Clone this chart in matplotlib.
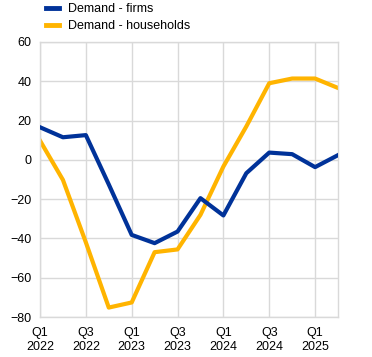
import matplotlib
matplotlib.use("Agg")
import matplotlib.pyplot as plt

plt.rcParams["font.family"] = ["Liberation Sans", "DejaVu Sans"]

quarters = ["Q1\n2022", "Q2\n2022", "Q3\n2022", "Q4\n2022",
            "Q1\n2023", "Q2\n2023", "Q3\n2023", "Q4\n2023",
            "Q1\n2024", "Q2\n2024", "Q3\n2024", "Q4\n2024",
            "Q1\n2025", "Q2\n2025"]
firms = [16.6, 11.5, 12.6, -12.5, -38.2, -42.4, -36.5, -19.5,
         -28.3, -6.8, 3.7, 2.9, -3.7, 2.4]
households = [9.8, -10.2, -42.0, -75.2, -72.6, -47.0, -45.6, -28.0,
              -3.4, 17.0, 39.0, 41.4, 41.4, 36.6]

BLUE = "#003299"
YELLOW = "#FFB400"
GRID = "#d9d9d9"

fig = plt.figure(figsize=(3.72, 3.57), dpi=100)
ax = fig.add_axes([40 / 372, 1 - 317 / 357, 298 / 372, 275 / 357])

x = list(range(len(quarters)))
ax.plot(x, firms, color=BLUE, lw=3, label="Demand - firms", zorder=3)
ax.plot(x, households, color=YELLOW, lw=3, label="Demand - households", zorder=2)

ax.set_xlim(0, len(quarters) - 1)
ax.set_ylim(-80, 60)
ax.set_yticks(range(-80, 61, 20))
ax.set_xticks(x[::2])
ax.set_xticklabels(quarters[::2])

ax.grid(True, color=GRID, lw=1)
ax.set_axisbelow(True)
for side in ["left", "right", "top", "bottom"]:
    ax.spines[side].set_color(GRID)
    ax.spines[side].set_linewidth(1)
ax.tick_params(length=0, labelsize=9, colors="#000000", pad=6)
ax.tick_params(axis="x", pad=7)
for lab in ax.get_xticklabels():
    lab.set_linespacing(1.3)

leg = fig.legend(loc="upper left", bbox_to_anchor=(43 / 372, 1 - 1 / 357), frameon=False,
                 fontsize=9, handlelength=1.05, handletextpad=0.75, labelspacing=0.35,
                 borderaxespad=0, borderpad=0.2)
for h in leg.legend_handles:
    h.set_linewidth(3.5)

fig.savefig("out.png", dpi=100)
